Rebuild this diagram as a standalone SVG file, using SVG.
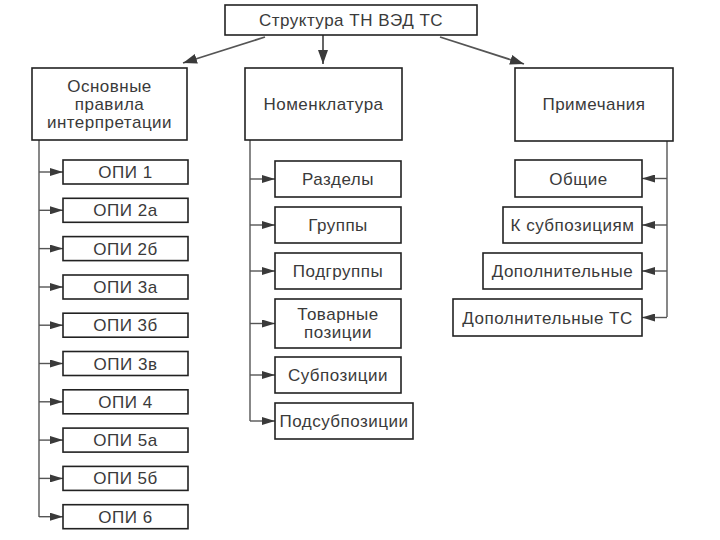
<svg xmlns="http://www.w3.org/2000/svg" width="720" height="540" viewBox="0 0 720 540">
<defs>
<style>
.box{fill:#fff;stroke:#222;stroke-width:1.6}
.t{font-family:"Liberation Sans",Arial,sans-serif;font-size:17px;letter-spacing:0.5px;fill:#3a3a3a;text-anchor:middle}
.ln{fill:none;stroke:#555;stroke-width:1.4}
.ar{fill:none;stroke:#555;stroke-width:1.4;marker-end:url(#ah)}
.arb{fill:none;stroke:#555;stroke-width:1.8;marker-end:url(#ahb)}
</style>
<marker id="ah" viewBox="0 0 13 8" refX="13" refY="4" markerWidth="13" markerHeight="8" markerUnits="userSpaceOnUse" orient="auto">
<path d="M0,0 L13,4 L0,8 Z" fill="#3a3a3a"/>
</marker>
<marker id="ahb" viewBox="0 0 14 10" refX="14" refY="5" markerWidth="14" markerHeight="10" markerUnits="userSpaceOnUse" orient="auto">
<path d="M0,0 L14,5 L0,10 Z" fill="#3a3a3a"/>
</marker>
</defs>
<rect width="720" height="540" fill="#fff"/>
<g id="connectors">
<path class="arb" d="M265,37 L183,63"/>
<path class="arb" d="M323,35 L323,64"/>
<path class="arb" d="M440,37 L524,64"/>
<path class="ln" d="M39,140 L39,517"/>
<path class="ar" d="M39,172 L63,172"/>
<path class="ar" d="M39,210.3 L63,210.3"/>
<path class="ar" d="M39,248.6 L63,248.6"/>
<path class="ar" d="M39,287 L63,287"/>
<path class="ar" d="M39,325.2 L63,325.2"/>
<path class="ar" d="M39,363.5 L63,363.5"/>
<path class="ar" d="M39,401.8 L63,401.8"/>
<path class="ar" d="M39,440.1 L63,440.1"/>
<path class="ar" d="M39,478.4 L63,478.4"/>
<path class="ar" d="M39,516.7 L63,516.7"/>
<path class="ln" d="M250,140 L250,421"/>
<path class="ar" d="M250,179 L275,179"/>
<path class="ar" d="M250,225 L275,225"/>
<path class="ar" d="M250,271 L275,271"/>
<path class="ar" d="M250,323.5 L275,323.5"/>
<path class="ar" d="M250,375 L275,375"/>
<path class="ar" d="M250,421 L275,421"/>
<path class="ln" d="M667,141 L667,317"/>
<path class="ar" d="M667,178.5 L642,178.5"/>
<path class="ar" d="M667,225 L642,225"/>
<path class="ar" d="M667,271 L642,271"/>
<path class="ar" d="M667,317.5 L642,317.5"/>
</g>
<g id="root"><rect class="box" x="225" y="5" width="252" height="30"/><text class="t" x="351" y="26">Структура ТН ВЭД ТС</text></g>
<g id="opi-main"><rect class="box" x="32" y="68" width="155" height="72"/><text class="t" x="109.5" y="92">Основные</text><text class="t" x="109.5" y="110">правила</text><text class="t" x="109.5" y="128">интерпретации</text></g>
<g id="nomen"><rect class="box" x="245" y="68" width="157" height="72"/><text class="t" x="323.5" y="110">Номенклатура</text></g>
<g id="notes"><rect class="box" x="515" y="68" width="158" height="73"/><text class="t" x="594" y="110">Примечания</text></g>
<g id="opi1"><rect class="box" x="63" y="160" width="125" height="24"/><text class="t" x="125.5" y="178">ОПИ 1</text></g>
<g id="opi2a"><rect class="box" x="63" y="198.3" width="125" height="24"/><text class="t" x="125.5" y="216.3">ОПИ 2а</text></g>
<g id="opi2b"><rect class="box" x="63" y="236.6" width="125" height="24"/><text class="t" x="125.5" y="254.6">ОПИ 2б</text></g>
<g id="opi3a"><rect class="box" x="63" y="275" width="125" height="24"/><text class="t" x="125.5" y="293">ОПИ 3а</text></g>
<g id="opi3b"><rect class="box" x="63" y="313.2" width="125" height="24"/><text class="t" x="125.5" y="331.2">ОПИ 3б</text></g>
<g id="opi3v"><rect class="box" x="63" y="351.5" width="125" height="24"/><text class="t" x="125.5" y="369.5">ОПИ 3в</text></g>
<g id="opi4"><rect class="box" x="63" y="389.8" width="125" height="24"/><text class="t" x="125.5" y="407.8">ОПИ 4</text></g>
<g id="opi5a"><rect class="box" x="63" y="428.1" width="125" height="24"/><text class="t" x="125.5" y="446.1">ОПИ 5а</text></g>
<g id="opi5b"><rect class="box" x="63" y="466.4" width="125" height="24"/><text class="t" x="125.5" y="484.4">ОПИ 5б</text></g>
<g id="opi6"><rect class="box" x="63" y="504.7" width="125" height="24"/><text class="t" x="125.5" y="522.7">ОПИ 6</text></g>
<g id="razdely"><rect class="box" x="275" y="161" width="126" height="36"/><text class="t" x="338" y="185">Разделы</text></g>
<g id="gruppy"><rect class="box" x="275" y="207" width="126" height="36"/><text class="t" x="338" y="231">Группы</text></g>
<g id="podgruppy"><rect class="box" x="275" y="253" width="126" height="36"/><text class="t" x="338" y="277">Подгруппы</text></g>
<g id="tovpoz"><rect class="box" x="275" y="299" width="126" height="49"/><text class="t" x="338" y="320">Товарные</text><text class="t" x="338" y="338">позиции</text></g>
<g id="subpoz"><rect class="box" x="275" y="357" width="126" height="36"/><text class="t" x="338" y="381">Субпозиции</text></g>
<g id="podsubpoz"><rect class="box" x="275" y="403" width="138" height="36"/><text class="t" x="344" y="427">Подсубпозиции</text></g>
<g id="obshie"><rect class="box" x="515" y="160" width="127" height="37"/><text class="t" x="578.5" y="184.5">Общие</text></g>
<g id="ksubpoz"><rect class="box" x="503" y="207" width="139" height="36"/><text class="t" x="572.5" y="231">К субпозициям</text></g>
<g id="dopoln"><rect class="box" x="483" y="253" width="159" height="36"/><text class="t" x="562.5" y="277">Дополнительные</text></g>
<g id="dopolnts"><rect class="box" x="453" y="299" width="189" height="37"/><text class="t" x="547.5" y="323.5">Дополнительные ТС</text></g>
</svg>
